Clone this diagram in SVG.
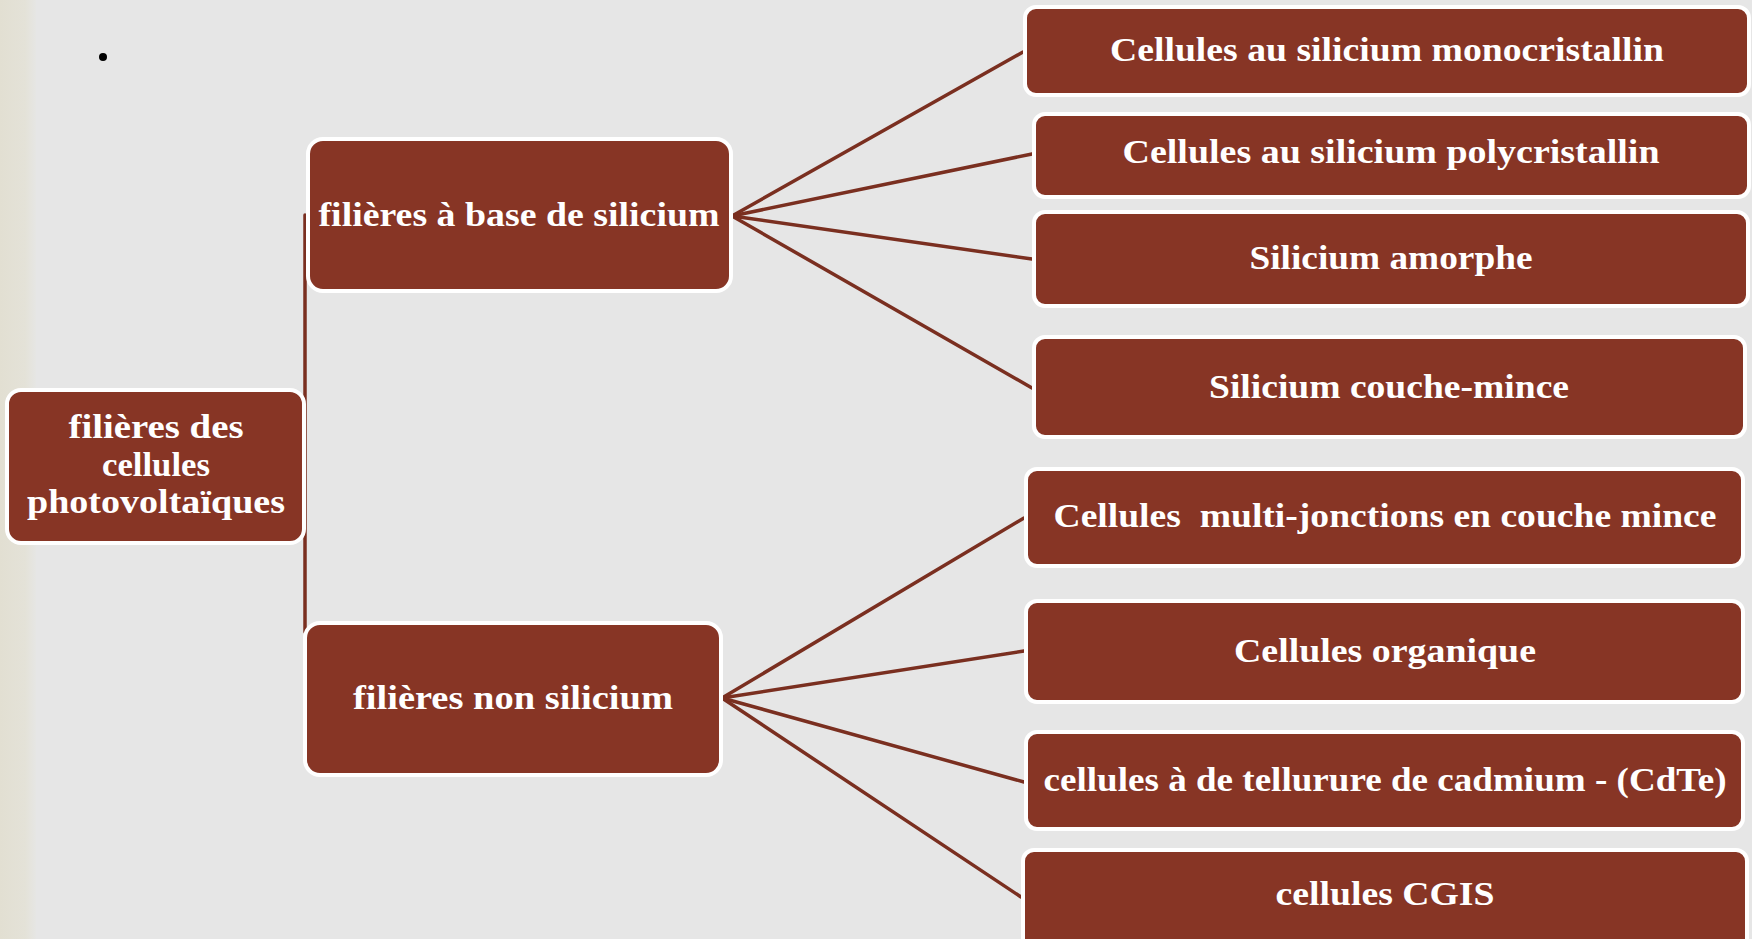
<svg xmlns="http://www.w3.org/2000/svg" width="1752" height="939" viewBox="0 0 1752 939">
  <defs>
    <linearGradient id="edge" x1="0" y1="0" x2="1" y2="0">
      <stop offset="0" stop-color="#e2dfd2"/>
      <stop offset="0.7" stop-color="#e4e2d8"/>
      <stop offset="1" stop-color="#e6e6e4"/>
    </linearGradient>
    <style>
      .box { fill: #873525; stroke: #ffffff; stroke-width: 4; }
      .lbl { fill: #ffffff; font-family: "Liberation Serif", "Times New Roman", serif; font-weight: bold; font-size: 34px; text-anchor: middle; }
      .conn { stroke: #7a2f20; stroke-width: 3.5; fill: none; stroke-linecap: round; }
    </style>
  </defs>

  <!-- backdrop -->
  <rect x="0" y="0" width="1752" height="939" fill="#e6e6e6"/>
  <rect x="0" y="0" width="36" height="939" fill="url(#edge)"/>
  <circle cx="103" cy="57" r="4" fill="#000000"/>

  <!-- connectors -->
  <g id="connectors">
    <path class="conn" d="M305 215 V632"/>
    <path class="conn" d="M732 216 L1023 52"/>
    <path class="conn" d="M732 216 L1032 154"/>
    <path class="conn" d="M732 216 L1032 259"/>
    <path class="conn" d="M732 216 L1032 388"/>
    <path class="conn" d="M722 698 L1024 518"/>
    <path class="conn" d="M722 698 L1024 651"/>
    <path class="conn" d="M722 698 L1024 782"/>
    <path class="conn" d="M722 698 L1021 897"/>
  </g>

  <!-- root -->
  <g id="root">
    <rect class="box" x="7" y="390" width="297" height="153" rx="14"/>
    <text class="lbl" x="156" y="438" textLength="175" lengthAdjust="spacingAndGlyphs">filières des</text>
    <text class="lbl" x="156" y="476" textLength="108" lengthAdjust="spacingAndGlyphs">cellules</text>
    <text class="lbl" x="156" y="513" textLength="258" lengthAdjust="spacingAndGlyphs">photovoltaïques</text>
  </g>

  <!-- second level -->
  <g id="silicon">
    <rect class="box" x="308" y="139" width="423" height="152" rx="15"/>
    <text class="lbl" x="519" y="226" textLength="401" lengthAdjust="spacingAndGlyphs">filières à base de silicium</text>
  </g>
  <g id="non-silicon">
    <rect class="box" x="305" y="623" width="416" height="152" rx="15"/>
    <text class="lbl" x="513" y="709" textLength="320" lengthAdjust="spacingAndGlyphs">filières non silicium</text>
  </g>

  <!-- leaves -->
  <g id="mono">
    <rect class="box" x="1025" y="7" width="724" height="88" rx="11"/>
    <text class="lbl" x="1387" y="61" textLength="554" lengthAdjust="spacingAndGlyphs">Cellules au silicium monocristallin</text>
  </g>
  <g id="poly">
    <rect class="box" x="1034" y="114" width="715" height="83" rx="11"/>
    <text class="lbl" x="1391" y="163" textLength="537" lengthAdjust="spacingAndGlyphs">Cellules au silicium polycristallin</text>
  </g>
  <g id="amorphe">
    <rect class="box" x="1034" y="212" width="714" height="94" rx="11"/>
    <text class="lbl" x="1391" y="269" textLength="283" lengthAdjust="spacingAndGlyphs">Silicium amorphe</text>
  </g>
  <g id="couche-mince">
    <rect class="box" x="1034" y="337" width="711" height="100" rx="11"/>
    <text class="lbl" x="1389" y="398" textLength="360" lengthAdjust="spacingAndGlyphs">Silicium couche-mince</text>
  </g>
  <g id="multi-jonctions">
    <rect class="box" x="1026" y="469" width="717" height="97" rx="11"/>
    <text class="lbl" x="1385" y="527" textLength="663" lengthAdjust="spacingAndGlyphs" xml:space="preserve">Cellules  multi-jonctions en couche mince</text>
  </g>
  <g id="organique">
    <rect class="box" x="1026" y="601" width="717" height="101" rx="11"/>
    <text class="lbl" x="1385" y="662" textLength="302" lengthAdjust="spacingAndGlyphs">Cellules organique</text>
  </g>
  <g id="cdte">
    <rect class="box" x="1026" y="732" width="717" height="97" rx="11"/>
    <text class="lbl" x="1385" y="791" textLength="683" lengthAdjust="spacingAndGlyphs">cellules à de tellurure de cadmium - (CdTe)</text>
  </g>
  <g id="cgis">
    <rect class="box" x="1023" y="850" width="724" height="104" rx="11"/>
    <text class="lbl" x="1385" y="905" textLength="219" lengthAdjust="spacingAndGlyphs">cellules CGIS</text>
  </g>
</svg>
